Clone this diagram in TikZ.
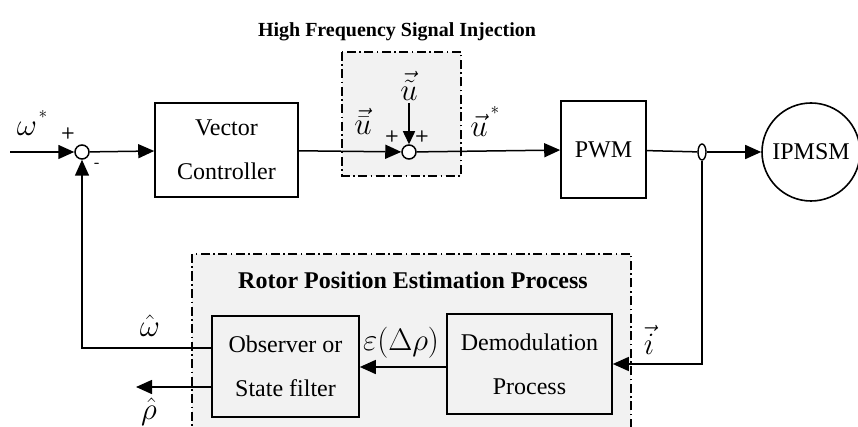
\documentclass[tikz,border=0pt]{standalone}
\usepackage{graphicx}
\usepackage{fontspec}
\setmainfont{Liberation Serif}
\usetikzlibrary{arrows.meta,shapes.geometric,calc}
\definecolor{panel}{HTML}{F2F2F2}
\newcommand{\biglab}[1]{\scalebox{1.25}{$#1$}}
\begin{document}
\begin{tikzpicture}[x=1pt,y=-1pt,
  line/.style={line width=1.5pt},
  arr/.style={line, -{Triangle[length=16pt,width=14pt]}},
  sarr/.style={line, -{Triangle[length=13pt,width=12pt]}},
  blk/.style={draw, line width=1.6pt, rectangle, inner sep=0pt, font=\fontsize{24}{44}\selectfont, align=center},
  sumpt/.style={draw, circle, line width=1.5pt, minimum size=14pt, inner sep=0pt, fill=white},
  region/.style={draw, line width=1.3pt, fill=panel, dash pattern=on 9pt off 3.5pt on 1.5pt off 3.5pt},
  sgn/.style={font=\sffamily\bfseries\fontsize{16}{16}\selectfont, inner sep=0pt},
  mlab/.style={font=\fontsize{24.88}{26}\selectfont, inner sep=0pt},
  star/.style={font=\fontsize{17.28}{18}\selectfont, inner sep=0pt},
  ttl/.style={font=\bfseries\fontsize{20}{24}\selectfont, inner sep=0pt},
  ttlb/.style={font=\bfseries\fontsize{24}{28}\selectfont, inner sep=0pt}]
\useasboundingbox (0,0) rectangle (858,427);
% regions
\path[region] (342,52) rectangle (461,176);
\path[region] (192,254) rectangle (631,445);
% titles
\node[ttl] (t1) at (397,32) {High Frequency Signal Injection};
\node[ttlb] (t2) at (413,280) {Rotor Position Estimation Process};
% blocks
\node[sumpt] (s1) at (82,152) {};
\node[blk, minimum width=143pt, minimum height=94pt] (vc) at (226.5,150) {Vector\\Controller};
\node[sumpt] (s2) at (409,152) {};
\node[blk, minimum width=85pt, minimum height=97pt] (pwm) at (603.5,149.5) {PWM};
\node[draw, ellipse, line width=1.4pt, minimum width=8pt, minimum height=16pt, inner sep=0pt, fill=white] (tap) at (702,152) {};
\node[draw, circle, line width=1.6pt, minimum size=98pt, inner sep=0pt, font=\fontsize{24}{28}\selectfont] (motor) at (811,152) {IPMSM};
\node[blk, minimum width=147pt, minimum height=101pt] (obs) at (285.5,366.5) {Observer or\\State filter};
\node[blk, minimum width=165pt, minimum height=100pt] (dem) at (529.5,364) {Demodulation\\Process};
% connectors
\coordinate (in) at (10,152);
\draw[arr] (in) -- (s1);
\draw[arr] (s1) -- (vc);
\draw[arr] (vc) -- (s2);
\draw[arr] (s2) -- (pwm);
\draw[line] (pwm) -- (tap);
\draw[arr] (tap) -- (motor);
\draw[arr] (tap.south) |- (dem.east);
\draw[arr] (dem.west |- 0,367) -- (obs.east |- 0,367);
\coordinate (fb) at (obs.west |- 0,348);
\draw[arr] (fb) -| (s1);
\coordinate (rhoout) at (136,387);
\draw[arr] (obs.west |- rhoout) -- (rhoout);
\coordinate (ut) at (409,103);
\draw[sarr] (ut) -- (s2);
% labels
\node[mlab] (lw) at (27,129) {\biglab{\omega}};
\node[star] (lws) at (43,114) {$*$};
\node[sgn] (p1) at (68,134) {+};
\node[sgn] (m1) at (97,165) {-};
\node[mlab] (lub) at (363,121) {\biglab{\vec{\bar{u}}}};
\node[mlab] (lut) at (409,86) {\biglab{\vec{\tilde{u}}}};
\node[sgn] (p2) at (392,137) {+};
\node[sgn] (p3) at (422,137) {+};
\node[mlab] (lu) at (479,125) {\biglab{\vec{u}}};
\node[star] (lus) at (495,110) {$*$};
\node[mlab] (leps) at (401,343) {\biglab{\varepsilon\bigl(\Delta\rho\bigr)}};
\node[mlab] (li) at (649,340) {\biglab{\vec{i}}};
\node[mlab] (lwh) at (150,326) {\biglab{\hat{\omega}}};
\node[mlab] (lrh) at (149,412) {\biglab{\hat{\rho}}};
\end{tikzpicture}
\end{document}
